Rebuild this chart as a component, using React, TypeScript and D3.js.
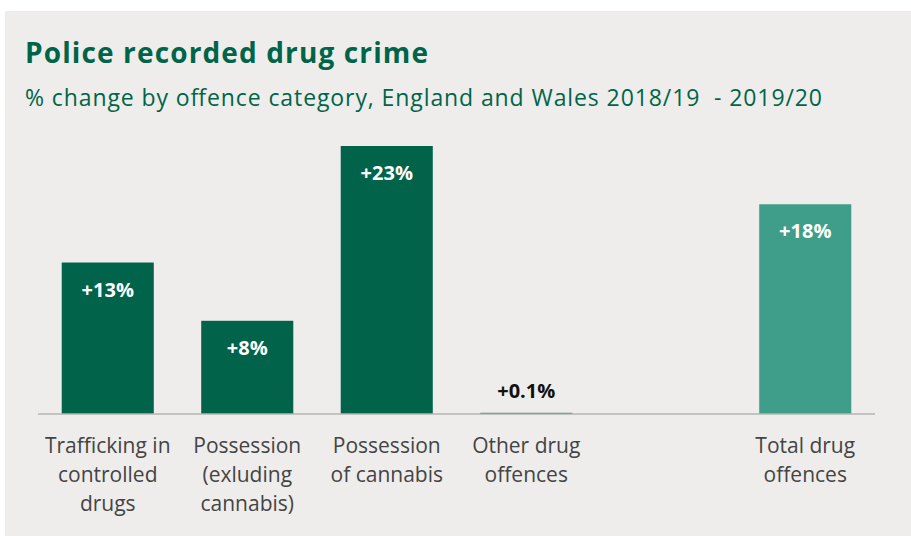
import React from "react";
import * as d3 from "d3";

const categories = [
  "Trafficking in|controlled|drugs",
  "Possession|(exluding|cannabis)",
  "Possession|of cannabis",
  "Other drug|offences",
  "",
  "Total drug|offences",
];
const values: (number | null)[] = [13, 8, 23, 0.1, null, 18];
const valueLabels = ["+13%", "+8%", "+23%", "+0.1%", "", "+18%"];
const isTotal = [false, false, false, false, false, true];

const W = 911;
const H = 536;

export default function App() {
  const x = d3
    .scaleBand<number>()
    .domain(categories.map((_, i) => i))
    .range([38, 875])
    .paddingInner(0.34)
    .paddingOuter(0.17);
  const y = d3.scaleLinear().domain([0, 23]).range([414, 146]);

  return (
    <svg
      width={W}
      height={H}
      style={{ position: "absolute", left: 0, top: 0 }}
    >
      <rect x={0} y={0} width={W} height={H} fill="#ffffff" />
      <rect x={5} y={11} width={W - 5} height={H - 11} fill="#eeedec" />
      <text
        x={25}
        y={63}
        fill="#006548"
        fontFamily="'Open Sans', sans-serif"
        fontWeight={700}
        fontSize={28}
        textLength={403}
        lengthAdjust="spacing"
      >
        Police recorded drug crime
      </text>
      <text
        x={25}
        y={106}
        fill="#006548"
        fontFamily="'Open Sans', sans-serif"
        fontSize={23}
        textLength={797}
        lengthAdjust="spacing"
        style={{ whiteSpace: "pre" }}
      >
        {"% change by offence category, England and Wales 2018/19  - 2019/20"}
      </text>
      {values.map((v, i) =>
        v === null ? null : (
          <rect
            key={"b" + i}
            x={x(i)!}
            y={y(v)}
            width={x.bandwidth()}
            height={y(0) - y(v)}
            fill={isTotal[i] ? "#3f9e89" : "#00634a"}
          />
        )
      )}
      <line x1={38} x2={875} y1={414} y2={414} stroke="#b4b4b4" strokeWidth={1.5} />
      {values.map((v, i) => {
        if (v === null) return null;
        const inside = y(0) - y(v) > 40;
        return (
          <text
            key={"v" + i}
            x={x(i)! + x.bandwidth() / 2}
            y={inside ? y(v) + 34 : y(v) - 15}
            textAnchor="middle"
            fill={inside ? "#ffffff" : "#111111"}
            fontFamily="'Open Sans', sans-serif"
            fontWeight={700}
            fontSize={20}
          >
            {valueLabels[i]}
          </text>
        );
      })}
      {categories.map((c, i) =>
        c === "" ? null : (
          <text
            key={"c" + i}
            x={x(i)! + x.bandwidth() / 2}
            y={453}
            textAnchor="middle"
            fill="#444444"
            fontFamily="'Open Sans', sans-serif"
            fontSize={21}
          >
            {c.split("|").map((line, j) => (
              <tspan key={j} x={x(i)! + x.bandwidth() / 2} dy={j === 0 ? 0 : 29}>
                {line}
              </tspan>
            ))}
          </text>
        )
      )}
    </svg>
  );
}
